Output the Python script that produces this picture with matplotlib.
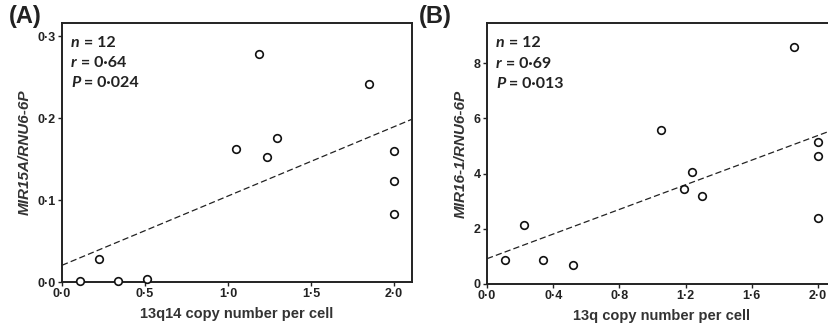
import matplotlib
matplotlib.use("Agg")
import matplotlib.pyplot as plt
import numpy as np

# Panel A data
xa = [0.11, 0.22, 0.335, 0.514, 1.05, 1.186, 1.236, 1.298, 1.847, 2.0, 2.0, 2.0]
ya = [0.0016, 0.0285, 0.0016, 0.0037, 0.162, 0.2776, 0.1526, 0.1758, 0.2418, 0.1595, 0.1229, 0.0826]
fit_a = [0.0204, 0.0845]  # intercept, slope

# Panel B data
xb = [0.11, 0.225, 0.338, 0.517, 1.053, 1.19, 1.24, 1.30, 1.853, 2.0, 2.0, 2.0]
yb = [0.88, 2.135, 0.856, 0.688, 5.57, 3.43, 4.05, 3.20, 8.59, 5.13, 4.62, 2.38]
fit_b = [0.917, 2.23]

xticks_a = [0.0, 0.5, 1.0, 1.5, 2.0]
xlabels_a = ["0·0", "0·5", "1·0", "1·5", "2·0"]
yticks_a = [0.0, 0.1, 0.2, 0.3]
ylabels_a = ["0·0", "0·1", "0·2", "0·3"]
xticks_b = [0.0, 0.4, 0.8, 1.2, 1.6, 2.0]
xlabels_b = ["0·0", "0·4", "0·8", "1·2", "1·6", "2·0"]
yticks_b = [0, 2, 4, 6, 8]
ylabels_b = ["0", "2", "4", "6", "8"]

stats_a = [("n", "12"), ("r", "0·64"), ("P", "0·024")]
stats_b = [("n", "12"), ("r", "0·69"), ("P", "0·013")]

plt.rcParams['font.family'] = ['Liberation Sans', 'DejaVu Sans']

fig = plt.figure(figsize=(8.29, 3.27), dpi=100)
axA = fig.add_axes([0.0748, 0.1376, 0.422, 0.792])
axB = fig.add_axes([0.5875, 0.1315, 0.422, 0.798])


def style(ax, xt, xl, yt, yl, xmax, ymax, xlabel, ylabel):
    ax.set_xlim(0, xmax)
    ax.set_ylim(0, ymax)
    ax.set_xticks(xt)
    ax.set_xticklabels(xl, fontweight='bold', fontsize=9)
    ax.set_yticks(yt)
    ax.set_yticklabels(yl, fontweight='bold', fontsize=9)
    ax.tick_params(direction='out', length=3, width=1, pad=1.5, colors='#222222')
    for s in ax.spines.values():
        s.set_linewidth(1.4)
        s.set_color('#222222')
    ax.set_xlabel(xlabel, fontsize=10.5, fontweight='bold', color='#333333', labelpad=5)
    ax.set_ylabel(ylabel, fontsize=11, fontweight='bold', style='italic', color='#333333', labelpad=4)


def draw(ax, x, y, fit, xmax, stats):
    xx = np.array([0, xmax])
    ax.plot(xx, fit[0] + fit[1] * xx, ls=(0, (5, 2.5)), color='#222222', lw=0.9)
    ax.scatter(x, y, s=30, facecolors='white', edgecolors='#111111', linewidths=1.2, zorder=3, clip_on=False)
    for i, (sym, val) in enumerate(stats):
        t = ax.text(0.026, 0.923 - i * 0.078, sym, transform=ax.transAxes, fontsize=11.5,
                    fontweight='bold', style='italic', family='Lato', va='center', ha='left',
                    color='#222222')
        ax.annotate(" = " + val, xy=(1, 0.5), xycoords=t, fontsize=11.5, fontweight='bold',
                    family='Lato', va='center', ha='left', color='#222222')


style(axA, xticks_a, xlabels_a, yticks_a, ylabels_a, 2.108, 0.316,
      "13q14 copy number per cell", "MIR15A/RNU6-6P")
draw(axA, xa, ya, fit_a, 2.108, stats_a)
style(axB, xticks_b, xlabels_b, yticks_b, ylabels_b, 2.115, 9.45,
      "13q copy number per cell", "MIR16-1/RNU6-6P")
draw(axB, xb, yb, fit_b, 2.115, stats_b)

fig.text(0.011, 0.985, "(A)", fontsize=17, fontweight='bold', va='top', ha='left', color='#222222')
fig.text(0.505, 0.985, "(B)", fontsize=17, fontweight='bold', va='top', ha='left', color='#222222')

fig.savefig("out.png", dpi=100)
